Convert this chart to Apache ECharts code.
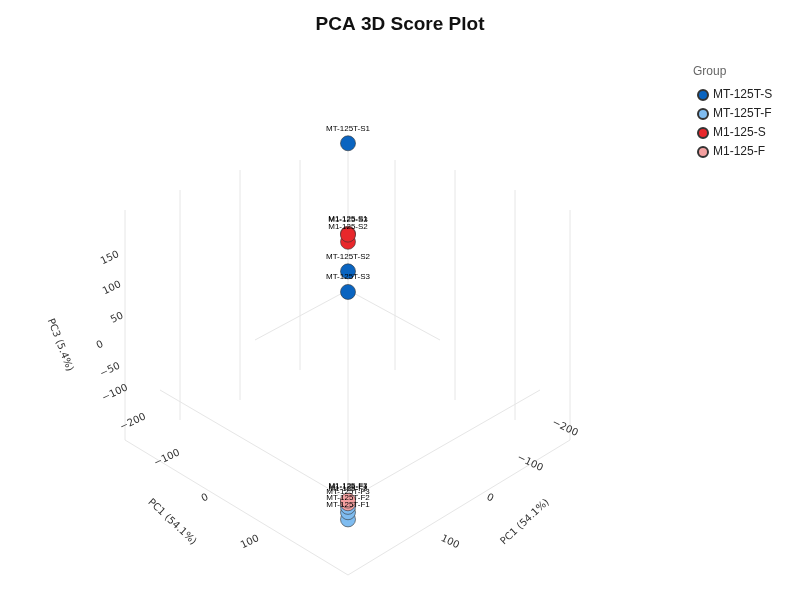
<!DOCTYPE html>
<html><head><meta charset="utf-8">
<script src="https://cdn.jsdelivr.net/npm/echarts@6/dist/echarts.min.js"></script>
<style>html,body{margin:0;padding:0;}#c{width:800px;height:600px;}</style>
</head><body><div id="c"></div>
<script>
const groups = ["MT-125T-S","MT-125T-F","M1-125-S","M1-125-F"];
const colors = ["#0a64c0","#7fbcf0","#e8272b","#f4a0a0"];
const samples = {
  "MT-125T-S": [["MT-125T-S1",190],["MT-125T-S2",47],["MT-125T-S3",24]],
  "MT-125T-F": [["MT-125T-F1",-230],["MT-125T-F2",-222],["MT-125T-F3",-216]],
  "M1-125-S": [["M1-125-S1",89],["M1-125-S2",80],["M1-125-S3",88]],
  "M1-125-F": [["M1-125-F1",-210],["M1-125-F2",-212],["M1-125-F3",-209]]
};
const chart = echarts.init(document.getElementById('c'));
const line = (x1,y1,x2,y2)=>({type:'line',shape:{x1,y1,x2,y2},style:{stroke:'#e6e6e6',lineWidth:1},silent:true,z:-1});
const txt = (x,y,t,r)=>({type:'text',x,y,rotation:r||0,style:{text:t,fill:'#333',font:'10px DejaVu Sans',align:'center',verticalAlign:'middle'}});
const g = [];
[[240,170,240,400],[300,160,300,370],[395,160,395,370],[455,170,455,400],[515,190,515,420],[125,210,125,440],[180,190,180,420],[570,210,570,440]].forEach(a=>g.push(line(...a)));
[[125,440,348,575],[348,575,570,440],[160,390,348,500],[348,500,540,390],[348,330,348,500],[348,150,348,330],[255,340,348,290],[440,340,348,290]].forEach(a=>g.push(line(...a)));
[[110,258,'150'],[112,288,'100'],[117,318,'50'],[100,345,'0'],[110,370,'−50'],[115,393,'−100'],[133,422,'−200'],[167,458,'−100'],[205,498,'0'],[250,542,'100'],[565,428,'−200'],[530,463,'−100'],[490,498,'0'],[450,542,'100']].forEach(a=>g.push(txt(a[0],a[1],a[2],0.45*(a[0]<348?1:-1))));
g.push(txt(60,345,'PC3 (5.4%)',-1.2));
g.push(txt(172,522,'PC1 (54.1%)',-0.75));
g.push(txt(525,522,'PC1 (54.1%)',0.75));
chart.setOption({
  animation:false,
  backgroundColor:'#fff',
  title:{text:'PCA 3D Score Plot',left:'center',top:10,textStyle:{fontSize:19,fontWeight:'bold',color:'#111',fontFamily:'Liberation Sans'}},
  legend:{orient:'vertical',left:692,top:84,itemGap:7,icon:'circle',itemWidth:10,itemHeight:10,textStyle:{fontSize:12,color:'#222'},data:groups},
  graphic:g.concat([{type:'text',left:693,top:66,style:{text:'Group',fill:'#666',font:'12px Liberation Sans'}}]),
  grid:{left:0,right:0,top:0,bottom:0},
  xAxis:{type:'value',min:-1,max:1,show:false},
  yAxis:{type:'value',min:-320,max:350,show:false},
  series:groups.map((gname,i)=>({
    name:gname,type:'scatter',symbolSize:15,
    itemStyle:{color:colors[i],borderColor:'#333',borderWidth:0.6,opacity:1},
    label:{show:true,position:'top',formatter:p=>p.data[2],fontSize:8,color:'#000',distance:3},
    labelLayout:{hideOverlap:false},
    data:samples[gname].map(s=>[-0.13,s[1],s[0]])
  }))
});
</script></body></html>
